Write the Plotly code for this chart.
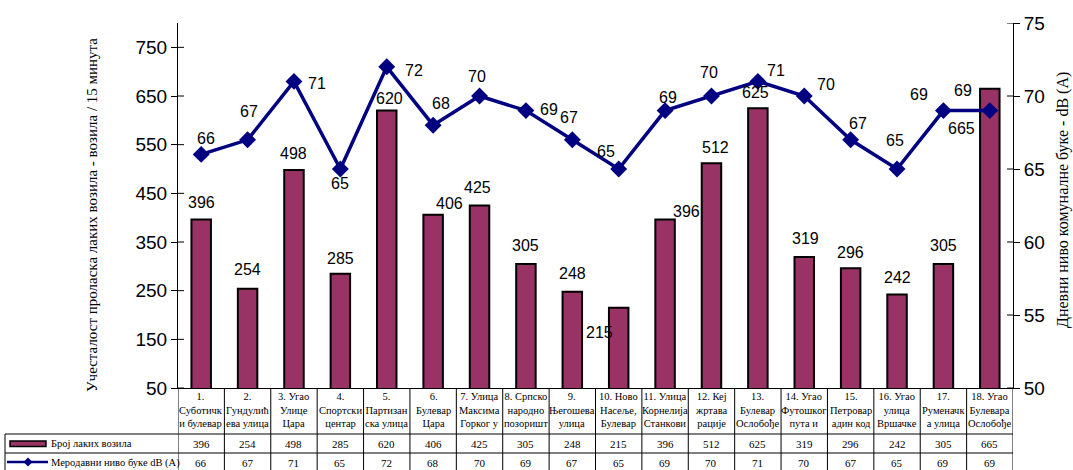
import plotly.graph_objects as go

# ---------------- data ----------------
categories = [
    "1.<br>Суботичк<br>и булевар",
    "2.<br>Гундулић<br>ева улица",
    "3. Угао<br>Улице<br>Цара",
    "4.<br>Спортски<br>центар",
    "5.<br>Партизан<br>ска улица",
    "6.<br>Булевар<br>Цара",
    "7. Улица<br>Максима<br>Горког у",
    "8. Српско<br>народно<br>позоришт",
    "9.<br>Његошева<br>улица",
    "10. Ново<br>Насеље,<br>Булевар",
    "11. Улица<br>Корнелија<br>Станкови",
    "12. Кеј<br>жртава<br>рације",
    "13.<br>Булевар<br>Ослобође",
    "14. Угао<br>Футошког<br>пута и",
    "15.<br>Петровар<br>адин код",
    "16. Угао<br>улица<br>Вршачке",
    "17.<br>Руменачк<br>а улица",
    "18. Угао<br>Булевара<br>Ослобође",
]
vehicles = [396, 254, 498, 285, 620, 406, 425, 305, 248, 215, 396, 512, 625, 319, 296, 242, 305, 665]
noise = [66, 67, 71, 65, 72, 68, 70, 69, 67, 65, 69, 70, 71, 70, 67, 65, 69, 69]

series_bar_name = "Број лаких возила"
series_line_name = "Меродавни ниво буке dB (A)"
left_title = "Учесталост проласка лаких возила - возила / 15 минута"
right_title = "Дневни ниво комуналне буке - dB (A)"
left_ticks = [50, 150, 250, 350, 450, 550, 650, 750]
right_ticks = [50, 55, 60, 65, 70, 75]

# label offsets (pixels, style only) to mimic original label placement
bar_label_off = [(0, -17), (0, -19), (0, -16), (0, -15), (3, -12), (16, -11), (-2, -18), (0, -18),
                 (0, -18), (-19, 25), (21, -8), (4, -16), (-2, -16), (1, -19), (0, -16), (0, -17),
                 (0, -18), (-28, 40)]
line_label_off = [(5, -16), (1, -28), (23, 2), (0, 14), (27, 4), (8, -22), (-3, -20), (23, -1),
                  (-3, -22), (-13, -18), (3, -13), (-2, -24), (18, -11), (22, -12), (7, -16),
                  (-2, -29), (-24, -16), (-27, -20)]

# ---------------- layout geometry ----------------
W, H = 1073, 470
L, R, T, B = 178, 60, 23, 82
PW = W - L - R
PH = H - T - B


def px(xp):
    return (xp - L) / PW


def py(yp):
    return (H - B - yp) / PH


BAR_COLOR = "#993366"
LINE_COLOR = "#000080"
SANS = "Liberation Sans, Arial, sans-serif"
SERIF = "Liberation Serif"

fig = go.Figure()
fig.add_trace(go.Bar(
    x=categories, y=vehicles, name=series_bar_name,
    marker=dict(color=BAR_COLOR, line=dict(color="black", width=2)),
    width=0.42, yaxis="y",
))
fig.add_trace(go.Scatter(
    x=categories, y=noise, name=series_line_name, mode="lines+markers",
    line=dict(color=LINE_COLOR, width=3.5),
    marker=dict(symbol="diamond", size=13, color=LINE_COLOR),
    yaxis="y2",
))

annotations = []
shapes = []


def ann(**kw):
    kw.setdefault("showarrow", False)
    kw.setdefault("xanchor", "center")
    kw.setdefault("yanchor", "middle")
    annotations.append(kw)


# data labels
for c, v, (dx, dy) in zip(categories, vehicles, bar_label_off):
    ann(x=c, y=v, xref="x", yref="y", text=str(v), xshift=dx, yshift=-dy,
        font=dict(family=SANS, size=16, color="black"))
for c, v, (dx, dy) in zip(categories, noise, line_label_off):
    ann(x=c, y=v, xref="x", yref="y2", text=str(v), xshift=dx, yshift=-dy,
        font=dict(family=SANS, size=16, color="black"))

# header (category names) and table values
for c, v, n in zip(categories, vehicles, noise):
    ann(x=c, y=py(410), xref="x", yref="paper", text=c,
        font=dict(family=SERIF, size=10.5, color="black"))
    ann(x=c, y=py(443.5), xref="x", yref="paper", text=str(v),
        font=dict(family=SERIF, size=11, color="black"))
    ann(x=c, y=py(463), xref="x", yref="paper", text=str(n),
        font=dict(family=SERIF, size=11, color="black"))

# legend texts in table
ann(x=px(49), y=py(443.5), xref="paper", yref="paper", text=series_bar_name, xanchor="left",
    font=dict(family=SERIF, size=10.5, color="black"))
ann(x=px(49), y=py(463), xref="paper", yref="paper", text=series_line_name, xanchor="left",
    font=dict(family=SERIF, size=10.5, color="black"))

# axis titles
ann(x=px(92), y=py(215), xref="paper", yref="paper", text=left_title, textangle=-90,
    font=dict(family=SERIF, size=15, color="black"))
ann(x=px(1063), y=py(200), xref="paper", yref="paper", text=right_title, textangle=-90,
    font=dict(family=SERIF, size=16, color="black"))

# table grid
grid = dict(color="black", width=1)
for i in range(len(categories) + 1):
    shapes.append(dict(type="line", xref="x", yref="paper", x0=i - 0.5, x1=i - 0.5,
                       y0=0, y1=py(475), line=grid))
for yy in (434, 453):
    shapes.append(dict(type="line", xref="paper", yref="paper", x0=px(5), x1=1,
                       y0=py(yy), y1=py(yy), line=grid))
shapes.append(dict(type="line", xref="paper", yref="paper", x0=px(5), x1=px(5),
                   y0=py(434), y1=py(475), line=grid))

# legend symbols in table
shapes.append(dict(type="rect", xref="paper", yref="paper", x0=px(10), x1=px(46),
                   y0=py(446.5), y1=py(441), fillcolor=BAR_COLOR, line=dict(color="black", width=1.5)))
shapes.append(dict(type="line", xref="paper", yref="paper", x0=px(7), x1=px(48),
                   y0=py(462), y1=py(462), line=dict(color=LINE_COLOR, width=2.5)))
cx, cy, d = 28, 462, 4.5
shapes.append(dict(type="path", xref="paper", yref="paper",
                   path=f"M {px(cx-d)},{py(cy)} L {px(cx)},{py(cy-d)} L {px(cx+d)},{py(cy)} L {px(cx)},{py(cy+d)} Z",
                   fillcolor=LINE_COLOR, line=dict(color=LINE_COLOR, width=0)))

# inner halves of crossing ticks
for t in left_ticks:
    shapes.append(dict(type="line", xref="paper", yref="y", x0=0, x1=px(L + 6), y0=t, y1=t,
                       line=dict(color="black", width=1)))
for t in right_ticks:
    shapes.append(dict(type="line", xref="paper", yref="y2", x0=px(W - R - 6), x1=1, y0=t, y1=t,
                       line=dict(color="black", width=1)))

fig.update_layout(
    width=W, height=H,
    margin=dict(l=L, r=R, t=T, b=B, pad=0),
    paper_bgcolor="white", plot_bgcolor="white",
    showlegend=False,
    bargap=0.5,
    xaxis=dict(type="category", range=[-0.5, len(categories) - 0.5], showticklabels=False,
               showline=True, linecolor="black", linewidth=1, ticks="", showgrid=False, zeroline=False),
    yaxis=dict(range=[50, 800], tickvals=left_ticks, ticks="outside", ticklen=6, tickcolor="black",
               showline=True, linecolor="black", linewidth=1, showgrid=False, zeroline=False,
               tickfont=dict(family=SANS, size=19, color="black")),
    yaxis2=dict(range=[50, 75], tickvals=right_ticks, overlaying="y", side="right", ticks="outside",
                ticklen=6, tickcolor="black", showline=True, linecolor="black", linewidth=1,
                showgrid=False, zeroline=False, tickfont=dict(family=SANS, size=19, color="black")),
    annotations=annotations,
    shapes=shapes,
)

fig.write_html("out.html")
